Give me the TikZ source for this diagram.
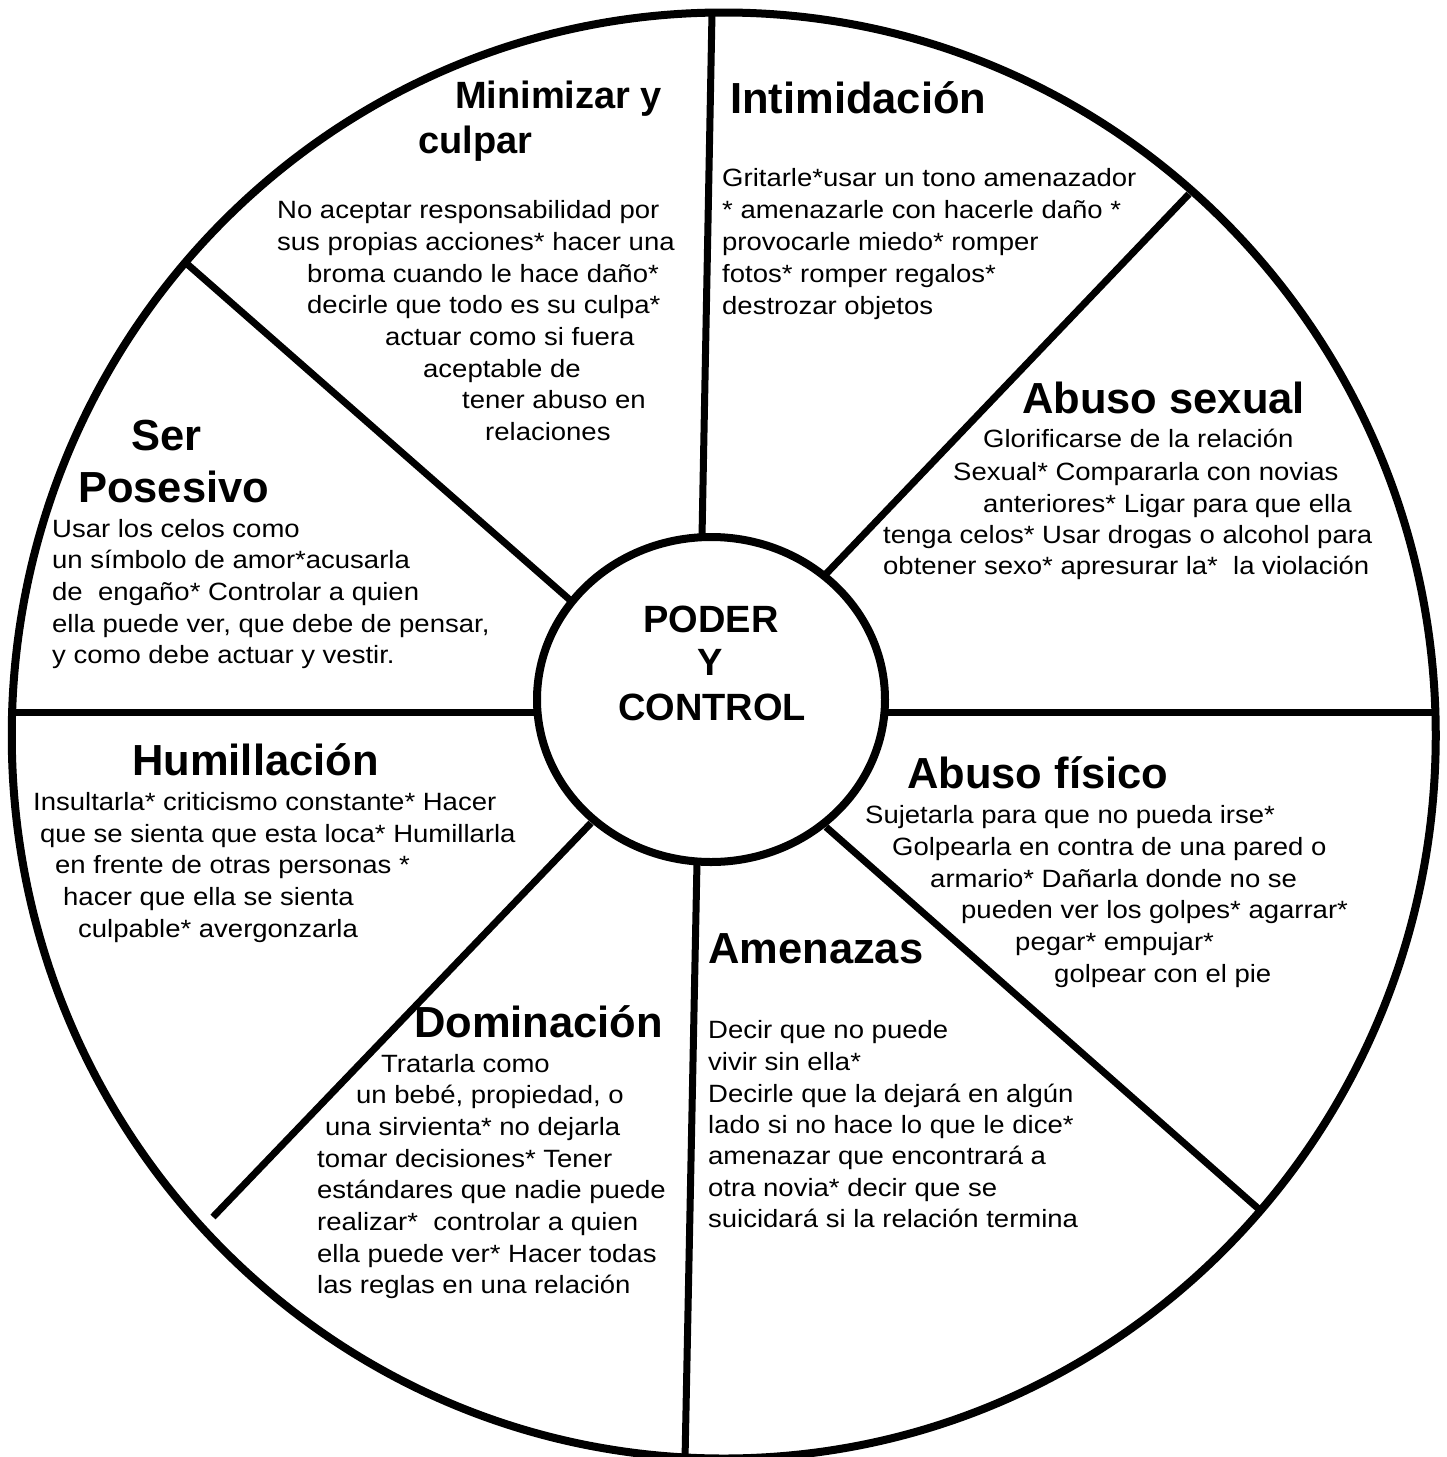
\documentclass[tikz,border=0pt]{standalone}
\usepackage{fontspec}
\setmainfont{Liberation Sans}
\newfontfamily\bodyfont{Liberation Sans}[FakeStretch=1.1]
\usetikzlibrary{shapes.geometric}
\begin{document}
\begin{tikzpicture}[x=1pt,y=-1pt,
  ringline/.style={draw=black, line width=8pt, ellipse, inner sep=0pt, outer sep=0pt},
  spoke/.style={line width=7pt, black},
  txt/.style={anchor=base west, inner sep=0pt, font=\bodyfont\fontsize{25}{30}\selectfont},
  head/.style={anchor=base west, inner sep=0pt, font=\bfseries\fontsize{43.5}{50}\selectfont},
  headsmall/.style={anchor=base west, inner sep=0pt, font=\bfseries\fontsize{38}{44}\selectfont},
  ctr/.style={anchor=base, inner sep=0pt, font=\bfseries\fontsize{38}{44}\selectfont}]
\useasboundingbox (0,0) rectangle (1447,1457);
\fill[white] (0,0) rectangle (1447,1457);

% wheel and hub
\node[ringline, minimum width=1424pt, minimum height=1446pt] (wheel) at (723.75,735.5) {};
\node[ringline, fill=white, minimum width=348pt, minimum height=325pt] (hub) at (711,699.5) {};

% spoke end points: inner (on hub) and outer (on wheel)
\coordinate (i1) at (702,537);  \coordinate (o1) at (712,13);
\coordinate (i2) at (825,575);  \coordinate (o2) at (1189,194);
\coordinate (i3) at (886,712);  \coordinate (o3) at (1436,712);
\coordinate (i4) at (826,827);  \coordinate (o4) at (1261,1211);
\coordinate (i5) at (697,862);  \coordinate (o5) at (685,1460);
\coordinate (i6) at (591,823);  \coordinate (o6) at (213,1217);
\coordinate (i7) at (537,712);  \coordinate (o7) at (12,712);
\coordinate (i8) at (570,600);  \coordinate (o8) at (186,263);

% spokes
\foreach \k in {1,...,8} \draw[spoke] (i\k) -- (o\k);

% centre text
\node[ctr] (c1) at (711,632) {PODER};
\node[ctr] (c2) at (710,675) {Y};
\node[ctr] (c3) at (712,720) {CONTROL};

% headings
\node[headsmall] (h1a) at (455,108) {Minimizar y};
\node[headsmall] (h1b) at (418,153) {culpar};
\node[head] (h2) at (730,113) {Intimidación};
\node[head] (h3) at (1022,413) {Abuso sexual};
\node[head] (h4a) at (131,450) {Ser};
\node[head] (h4b) at (78,502) {Posesivo};
\node[head] (h5) at (132,775) {Humillación};
\node[head] (h6) at (907,788) {Abuso físico};
\node[head] (h7) at (708,963) {Amenazas};
\node[head] (h8) at (414,1037) {Dominación};

% body texts
\foreach \x/\y/\t [count=\i] in {
  277/218/{No aceptar responsabilidad por},
  277/250/{sus propias acciones* hacer una},
  307/282/{broma cuando le hace daño*},
  307/313/{decirle que todo es su culpa*},
  385/345/{actuar como si fuera},
  423/377/{aceptable de},
  462/408/{tener abuso en},
  485/440/{relaciones}}
  \node[txt] (ma\i) at (\x,\y) {\t};

\foreach \x/\y/\t [count=\i] in {
  722/186/{Gritarle*usar un tono amenazador},
  722/218/{* amenazarle con hacerle daño *},
  722/250/{provocarle miedo* romper},
  722/282/{fotos* romper regalos*},
  722/314/{destrozar objetos}}
  \node[txt] (ia\i) at (\x,\y) {\t};

\foreach \x/\y/\t [count=\i] in {
  983/447/{Glorificarse de la relación},
  953/480/{Sexual* Compararla con novias},
  983/512/{anteriores* Ligar para que ella},
  883/543/{tenga celos* Usar drogas o alcohol para},
  883/574/{obtener sexo* apresurar la*\ \ la violación}}
  \node[txt] (sa\i) at (\x,\y) {\t};

\foreach \x/\y/\t [count=\i] in {
  52/537/{Usar los celos como},
  52/568/{un símbolo de amor*acusarla},
  52/600/{de\ \ engaño* Controlar a quien},
  52/632/{ella puede ver, que debe de pensar,},
  52/663/{y como debe actuar y vestir.}}
  \node[txt] (pa\i) at (\x,\y) {\t};

\foreach \x/\y/\t [count=\i] in {
  33/810/{Insultarla* criticismo constante* Hacer},
  40/842/{que se sienta que esta loca* Humillarla},
  55/873/{en frente de otras personas *},
  63/905/{hacer que ella se sienta},
  78/937/{culpable* avergonzarla}}
  \node[txt] (ua\i) at (\x,\y) {\t};

\foreach \x/\y/\t [count=\i] in {
  865/823/{Sujetarla para que no pueda irse*},
  892/855/{Golpearla en contra de una pared o},
  930/887/{armario* Dañarla donde no se},
  961/918/{pueden ver los golpes* agarrar*},
  1015/950/{pegar* empujar*},
  1054/982/{golpear con el pie}}
  \node[txt] (fa\i) at (\x,\y) {\t};

\foreach \x/\y/\t [count=\i] in {
  708/1038/{Decir que no puede},
  708/1070/{vivir sin ella*},
  708/1102/{Decirle que la dejará en algún},
  708/1133/{lado si no hace lo que le dice*},
  708/1164/{amenazar que encontrará a},
  708/1196/{otra novia* decir que se},
  708/1227/{suicidará si la relación termina}}
  \node[txt] (aa\i) at (\x,\y) {\t};

\foreach \x/\y/\t [count=\i] in {
  381/1072/{Tratarla como},
  356/1103/{un bebé, propiedad, o},
  325/1135/{una sirvienta* no dejarla},
  317/1167/{tomar decisiones* Tener},
  317/1198/{estándares que nadie puede},
  317/1230/{realizar*\ \ controlar a quien},
  317/1262/{ella puede ver* Hacer todas},
  317/1293/{las reglas en una relación}}
  \node[txt] (da\i) at (\x,\y) {\t};
\end{tikzpicture}
\end{document}
